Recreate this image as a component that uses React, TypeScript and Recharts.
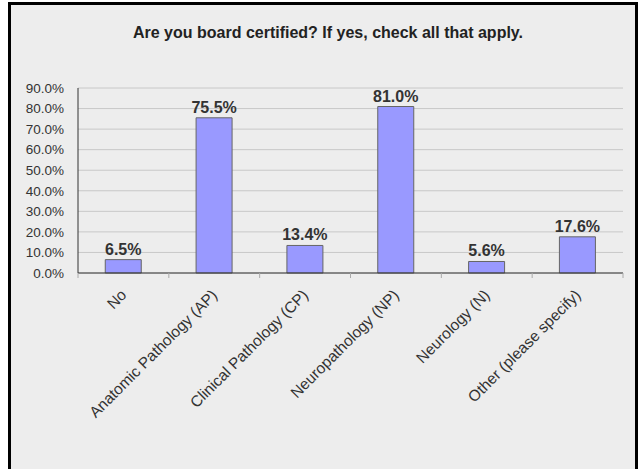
import React from 'react';
import { BarChart, Bar, XAxis, YAxis, CartesianGrid, LabelList } from 'recharts';

const categories = [
  'No',
  'Anatomic Pathology (AP)',
  'Clinical Pathology (CP)',
  'Neuropathology (NP)',
  'Neurology (N)',
  'Other (please specify)',
];
const percents = [6.5, 75.5, 13.4, 81.0, 5.6, 17.6];
const yTicks = [0, 10, 20, 30, 40, 50, 60, 70, 80, 90];

const data = categories.map((name, i) => ({ name, value: percents[i] }));

const W = 639;
const H = 469;
const LEFT = 78;
const RIGHT = 16;
const band = (W - LEFT - RIGHT) / categories.length;
const font = '"Liberation Sans", Arial, sans-serif';

const XTick = (props: any) => {
  const { x, y, index } = props;
  const left = x - band / 2;
  const right = x + band / 2;
  const tx = x + 4;
  const ty = y + 23;
  return (
    <g>
      <line x1={left} x2={left} y1={y} y2={y + 5} stroke="#aaa" />
      {index === categories.length - 1 && <line x1={right} x2={right} y1={y} y2={y + 5} stroke="#aaa" />}
      <text
        x={tx}
        y={ty}
        transform={`rotate(-45 ${tx} ${ty})`}
        textAnchor="end"
        fontSize={15.5}
        fill="#333"
        fontFamily={font}
      >
        {props.payload.value}
      </text>
    </g>
  );
};

const App: React.FC = () => {
  return (
    <div style={{ position: 'absolute', left: 0, top: 0, width: W, height: H, background: '#fff', overflow: 'hidden', fontFamily: font }}>
      <div
        style={{
          position: 'absolute',
          left: 8,
          top: 2,
          width: 630,
          height: 490,
          border: '3px solid #000',
          background: '#ededed',
          boxSizing: 'border-box',
        }}
      />
      <div
        style={{
          position: 'absolute',
          left: 8,
          width: 640,
          top: 24,
          textAlign: 'center',
          fontSize: 16,
          fontWeight: 'bold',
          color: '#222',
        }}
      >
        Are you board certified? If yes, check all that apply.
      </div>
      <div style={{ position: 'absolute', left: 0, top: 0 }}>
        <BarChart
          width={W}
          height={H}
          data={data}
          margin={{ top: 88, right: RIGHT, left: 0, bottom: 0 }}
          barCategoryGap="30%"
        >
          <CartesianGrid vertical={false} stroke="#c8c8c8" />
          <XAxis
            dataKey="name"
            height={196}
            interval={0}
            tickLine={false}
            tickSize={0}
            tickMargin={0}
            axisLine={{ stroke: '#333' }}
            tick={<XTick />}
          />
          <YAxis
            width={LEFT}
            domain={[0, 90]}
            ticks={yTicks}
            interval={0}
            tickLine={false}
            tickSize={6}
            tickMargin={8}
            axisLine={{ stroke: '#333' }}
            tick={{ fill: '#333', fontSize: 13.5, fontFamily: font }}
            tickFormatter={(v: number) => `${v.toFixed(1)}%`}
          />
          <Bar dataKey="value" fill="#9999ff" stroke="#666" strokeWidth={1} isAnimationActive={false}>
            <LabelList
              dataKey="value"
              position="top"
              offset={5}
              fill="#333"
              fontSize={16}
              fontWeight="bold"
              fontFamily={font}
              formatter={(v: any) => `${Number(v).toFixed(1)}%`}
            />
          </Bar>
        </BarChart>
      </div>
    </div>
  );
};

export default App;
